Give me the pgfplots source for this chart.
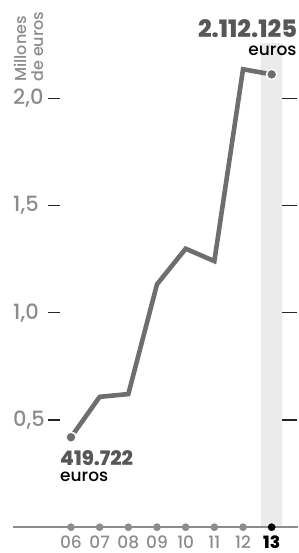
\documentclass[border=0pt]{standalone}
\usepackage{pgfplots}
\pgfplotsset{compat=1.18}
\usepackage{fontspec}
\setmainfont{Poppins Medium}[BoldFont={Poppins ExtraBold}]
\definecolor{linegray}{HTML}{6E6E6E}
\definecolor{labgray}{HTML}{8C8C8C}
\definecolor{bandgray}{HTML}{EBEBEB}
\definecolor{numgray}{HTML}{575757}
\tikzset{
  ytl/.style={anchor=west, inner sep=0, text=labgray, font=\fontsize{21}{21}\selectfont},
  xtl/.style={anchor=base, inner sep=0, text depth=0pt, text=labgray, font=\fontsize{17}{17}\selectfont},
  tickdash/.style={black!85, line width=1.2pt}
}
\begin{document}
\begin{tikzpicture}
\begin{axis}[at={(0,0)}, anchor=south west, width=298pt, height=553pt, scale only axis,
  xmin=3.524, xmax=13.918, ymin=-0.1203, ymax=2.459, axis lines=none, clip=false]
% highlight band
\addplot[fill=bandgray, draw=none] coordinates {(12.627,0) (12.627,2.258) (13.36,2.258) (13.36,0)} \closedcycle;
% bottom axis
\draw[labgray, line width=2pt] (axis cs:3.987,0) -- (axis cs:13.918,0);
% y ticks
\draw[tickdash] (axis cs:5.187,0.5) -- (axis cs:5.616,0.5);
\draw[tickdash] (axis cs:5.187,1.0) -- (axis cs:5.616,1.0);
\draw[tickdash] (axis cs:5.187,1.5) -- (axis cs:5.616,1.5);
\draw[tickdash] (axis cs:5.187,2.0) -- (axis cs:5.616,2.0);
\draw[tickdash] (axis cs:13.349,0.5) -- (axis cs:13.893,0.5);
\draw[tickdash] (axis cs:13.349,1.0) -- (axis cs:13.893,1.0);
\draw[tickdash] (axis cs:13.349,1.5) -- (axis cs:13.893,1.5);
\draw[tickdash] (axis cs:13.349,2.0) -- (axis cs:13.893,2.0);
\node[ytl] at (axis cs:3.977,0.5) {0,5};
\node[ytl] at (axis cs:3.977,1.0) {1,0};
\node[ytl] at (axis cs:3.977,1.5) {1,5};
\node[ytl] at (axis cs:3.977,2.0) {2,0};
% x tick dots
\addplot[only marks, mark=*, mark size=3.6pt, labgray] coordinates {(6,0)(7,0)(8,0)(9,0)(10,0)(11,0)(12,0)};
\addplot[only marks, mark=*, mark size=3.6pt, black] coordinates {(13,0)};
% x labels
\node[xtl] at (axis cs:6,-0.099) {06};
\node[xtl] at (axis cs:7,-0.099) {07};
\node[xtl] at (axis cs:8,-0.099) {08};
\node[xtl] at (axis cs:9,-0.099) {09};
\node[xtl] at (axis cs:10,-0.099) {10};
\node[xtl] at (axis cs:11,-0.099) {11};
\node[xtl] at (axis cs:12,-0.099) {12};
\node[xtl, text=black, font=\fontsize{17}{17}\selectfont\bfseries] at (axis cs:13,-0.099) {13};
% data line
\addplot[linegray, line width=4.6pt, line join=miter] coordinates {
(6,0.4197) (7,0.608) (8,0.621) (9,1.133) (10,1.299) (11,1.241) (12,2.136) (13,2.112)};
\addplot[only marks, mark=*, mark size=5.2pt, mark options={fill=linegray, draw=white, line width=1.5pt}] coordinates {(6,0.4197) (13,2.112)};
% annotations
\node[rotate=90, anchor=north west, inner sep=0, align=left, text=labgray, font=\fontsize{16}{17}\selectfont] at (axis cs:4.012,2.0765) {Millones\\de euros};
\node[anchor=base east, inner sep=0, text=numgray, font=\fontsize{24}{24}\selectfont\bfseries] at (axis cs:13.89,2.286) {2.112.125};
\node[anchor=base east, inner sep=0, text=black, font=\fontsize{17}{17}\selectfont] at (axis cs:13.87,2.202) {euros};
\node[anchor=base west, inner sep=0, text=numgray, font=\fontsize{20}{20}\selectfont\bfseries] at (axis cs:5.617,0.290) {419.722};
\node[anchor=base west, inner sep=0, text=black, font=\fontsize{17}{17}\selectfont] at (axis cs:5.617,0.212) {euros};
\end{axis}
\pgfresetboundingbox
\path (0,0) rectangle (298pt,553pt);
\end{tikzpicture}
\end{document}
